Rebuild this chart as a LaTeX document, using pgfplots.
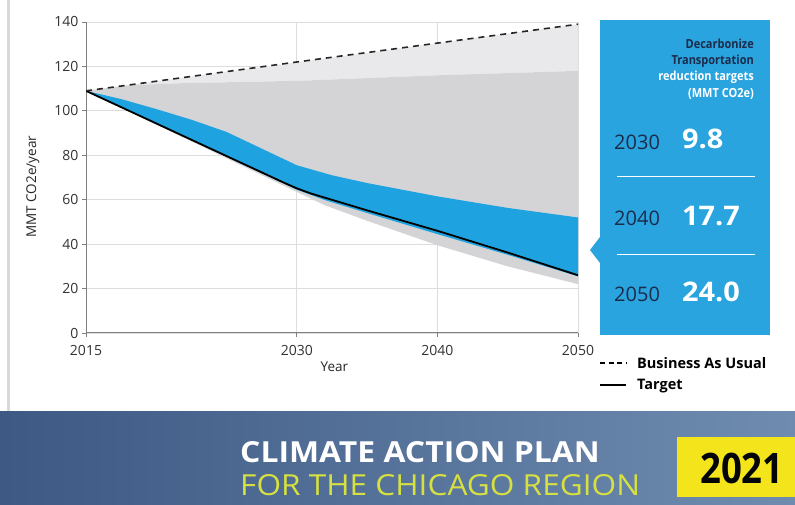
\documentclass[border=0pt]{standalone}
\usepackage{pgfplots}
\pgfplotsset{compat=1.18}
\usepackage{fontspec}
\setmainfont{Open Sans}
\definecolor{cblue}{HTML}{1FA3E0}
\definecolor{boxblue}{HTML}{29A4DF}
\definecolor{navy}{HTML}{1C2B4B}
\definecolor{lgray}{HTML}{E9E9EB}
\definecolor{mgray}{HTML}{D4D4D7}
\definecolor{gridc}{HTML}{DDDDDD}
\definecolor{axc}{HTML}{808080}
\definecolor{banL}{HTML}{3D5984}
\definecolor{banR}{HTML}{6F8CB0}
\definecolor{ygreen}{HTML}{D6E040}
\definecolor{yel}{HTML}{F4E41C}
\begin{document}
\begin{tikzpicture}
\useasboundingbox (0pt,0pt) rectangle (795pt,505pt);
\fill[white] (0pt,0pt) rectangle (795pt,505pt);
\fill[gray!30] (7pt,93pt) rectangle (10pt,505pt);
% banner
\shade[left color=banL, right color=banR] (0pt,0pt) rectangle (795pt,93pt);
\node[anchor=west, text=white, font=\bfseries\fontsize{29}{30}\selectfont, inner sep=0] at (240pt,53pt) {\scalebox{1.1}[1]{CLIMATE ACTION PLAN}};
\node[anchor=west, text=ygreen, font=\fontsize{29}{30}\selectfont, inner sep=0] at (240pt,20pt) {\scalebox{1.09}[1]{FOR THE CHICAGO REGION}};
\fill[yel] (677pt,8pt) rectangle (795pt,68pt);
\node[anchor=west, text=black!90!navy, font=\bfseries\fontsize{42}{44}\selectfont, inner sep=0] at (700pt,37pt) {\scalebox{0.87}[1]{2021}};
% right box
\fill[boxblue] (600pt,170pt) rectangle (770pt,485pt);
\fill[boxblue] (590pt,255pt) -- (600pt,268pt) -- (600pt,242pt) -- cycle;
\begin{scope}[font=\bfseries\fontsize{12.5}{14}\selectfont]
\node[anchor=east, text=navy, inner sep=0] at (754pt,461pt) {\scalebox{0.88}[1]{Decarbonize}};
\node[anchor=east, text=navy, inner sep=0] at (754pt,444pt) {\scalebox{0.88}[1]{Transportation}};
\node[anchor=east, text=white, inner sep=0] at (754pt,428pt) {\scalebox{0.88}[1]{reduction targets}};
\node[anchor=east, text=white, inner sep=0] at (754pt,411pt) {\scalebox{0.88}[1]{(MMT CO2e)}};
\end{scope}
\begin{scope}[font=\fontsize{20}{22}\selectfont]
\node[anchor=west, text=navy, inner sep=0] at (614pt,363pt) {2030};
\node[anchor=west, text=navy, inner sep=0] at (614pt,287pt) {2040};
\node[anchor=west, text=navy, inner sep=0] at (614pt,211pt) {2050};
\end{scope}
\begin{scope}[font=\bfseries\fontsize{27}{29}\selectfont]
\node[anchor=west, text=white, inner sep=0] at (682pt,366pt) {\scalebox{1.07}[1]{9.8}};
\node[anchor=west, text=white, inner sep=0] at (682pt,289pt) {\scalebox{1.07}[1]{17.7}};
\node[anchor=west, text=white, inner sep=0] at (682pt,213pt) {\scalebox{1.07}[1]{24.0}};
\end{scope}
\draw[white, line width=1pt] (617pt,328pt) -- (755pt,328pt);
\draw[white, line width=1pt] (617pt,250pt) -- (755pt,250pt);
% legend
\draw[black, line width=1.6pt, dash pattern=on 5pt off 3.5pt] (600pt,142pt) -- (626pt,142pt);
\node[anchor=west, inner sep=0, font=\bfseries\fontsize{14.5}{16}\selectfont] at (637pt,142pt) {Business As Usual};
\draw[black, line width=1.8pt] (600pt,120pt) -- (626pt,120pt);
\node[anchor=west, inner sep=0, font=\bfseries\fontsize{14.5}{16}\selectfont] at (637pt,119pt) {Target};
\begin{axis}[
  at={(86pt,172pt)}, anchor=south west,
  scale only axis, width=492pt, height=311pt,
  xmin=2015, xmax=2050, ymin=0, ymax=140,
  xtick={2015,2030,2040,2050}, ytick={0,20,...,140},
  xticklabel style={/pgf/number format/1000 sep={}, yshift=-5pt},
  /pgf/number format/assume math mode=true,
  tick label style={font=\fontsize{14}{15}\selectfont, text=black!80},
  axis x line=bottom, axis y line=left,
  axis line style={-, axc, line width=1pt},
  tick style={axc, line width=0.8pt},
  tick align=outside, major tick length=4pt,
  grid=major, major grid style={gridc, line width=0.8pt},
  xlabel={Year}, ylabel={MMT CO2e/year},
  label style={font=\fontsize{13.5}{15}\selectfont, text=black!85},
  xlabel style={at={(axis description cs:0.505,0)}, anchor=north, yshift=-25pt},
  ylabel style={at={(axis description cs:0,0.47)}, anchor=south, yshift=43pt},
]
% light gray: BAU to gray top
\addplot[draw=none, fill=lgray] coordinates {(2015,109) (2050,139) (2050,118) (2040,116) (2030,113.5) (2022,112.5) (2018,111.5) (2015,109)} -- cycle;
% mid gray band
\addplot[draw=none, fill=mgray] coordinates {(2015,109) (2018,111.5) (2022,112.5) (2030,113.5) (2040,116) (2050,118) (2050,22) (2045,30) (2040,39.5) (2035,50.5) (2032,57.5) (2030,63.5) (2029,66.5) (2015,109)} -- cycle;
% blue reduction wedge
\addplot[draw=none, fill=cblue] coordinates {(2015,109) (2017.5,105.3) (2020,100.8) (2022.5,96) (2025,90.5) (2027.5,83) (2030,75.5) (2032.5,71) (2035,67.5) (2040,61.5) (2045,56.3) (2050,52) (2050,25.5) (2045,35.2) (2040,44.5) (2035,54) (2032,59.8) (2030,64.5) (2015,109)} -- cycle;
% target
\addplot[black, line width=1.8pt] coordinates {(2015,109) (2029,67.9) (2030,65.1) (2031,62.8) (2035,55.2) (2040,46) (2045,36.2) (2050,26)};
% BAU
\addplot[black!85, line width=1.6pt, dash pattern=on 6pt off 5pt] coordinates {(2015,109) (2030,122) (2040,130.5) (2050,139)};
\end{axis}
\end{tikzpicture}
\end{document}
